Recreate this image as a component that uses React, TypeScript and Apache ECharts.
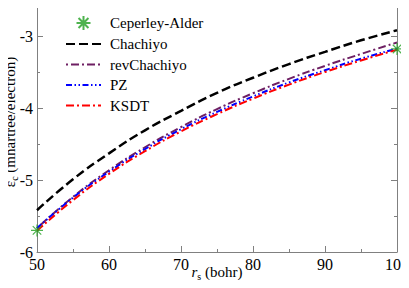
import React, { useEffect, useRef } from "react";
import * as echarts from "echarts";

const rs = [50, 55, 60, 65, 70, 75, 80, 85, 90, 95, 100];
const chachiyo = [-5.42, -4.99, -4.63, -4.31, -4.04, -3.79, -3.58, -3.39, -3.22, -3.06, -2.92];
const revChachiyo = [-5.67, -5.235, -4.865, -4.545, -4.265, -4.015, -3.795, -3.595, -3.415, -3.25, -3.09];
const pz = [-5.67, -5.245, -4.885, -4.57, -4.295, -4.055, -3.84, -3.645, -3.475, -3.315, -3.175];
const ksdt = [-5.705, -5.28, -4.915, -4.6, -4.325, -4.085, -3.87, -3.675, -3.5, -3.34, -3.19];
const caRs = [50, 100];
const caE = [-5.7, -3.18];
const xTicks = [50, 60, 70, 80, 90, 100];
const yTicks = [-6, -5, -4, -3];

const FONT = "Liberation Serif";
const STAR =
  "path://M0,-10L0,10M-10,0L10,0M-7.07,-7.07L7.07,7.07M-7.07,7.07L7.07,-7.07";
const CLEAR = "rgba(0,0,0,0)";

export default function App() {
  const ref = useRef<HTMLDivElement>(null);
  useEffect(() => {
    if (!ref.current) return;
    const chart = echarts.init(ref.current, null, { renderer: "svg" });
    const pair = (ys: number[]) => rs.map((x, i) => [x, ys[i]]);
    const axisCommon = {
      axisLine: { show: true, lineStyle: { color: "#808080", width: 1 } },
      axisTick: { show: true, inside: true, length: 6, lineStyle: { color: "#808080" } },
      minorTick: { show: true, splitNumber: 2, length: 3, lineStyle: { color: "#808080" } },
      splitLine: { show: false },
    };
    chart.setOption({
      animation: false,
      backgroundColor: "#ffffff",
      grid: { left: 37, right: 12, top: 0, bottom: 36, outerBoundsMode: "none" },
      legend: {
        orient: "vertical",
        left: 60,
        top: 10,
        itemWidth: 35,
        itemHeight: 14,
        itemGap: 5.5,
        textStyle: { fontFamily: FONT, fontSize: 15, color: "#000", padding: [0, 0, 0, 4], lineHeight: 15 },
        data: ["Ceperley-Alder", "Chachiyo", "revChachiyo", "PZ", "KSDT"],
      },
      xAxis: [
        {
          type: "value",
          min: 50,
          max: 100,
          interval: 10,
          ...axisCommon,
          axisLabel: {
            fontFamily: FONT,
            fontSize: 16,
            color: "#000",
            margin: 4,
            formatter: (v: number) => (xTicks.includes(v) ? String(v) : ""),
          },
        },
        {
          type: "value",
          position: "top",
          min: 50,
          max: 100,
          interval: 10,
          ...axisCommon,
          axisLabel: { show: false },
        },
      ],
      yAxis: [
        {
          type: "value",
          min: -6,
          max: -2.5,
          interval: 1,
          ...axisCommon,
          axisLabel: {
            fontFamily: FONT,
            fontSize: 16,
            color: "#000",
            margin: 4,
            formatter: (v: number) => (yTicks.includes(v) ? String(v) : ""),
          },
        },
        {
          type: "value",
          position: "right",
          min: -6,
          max: -2.5,
          interval: 1,
          ...axisCommon,
          axisLabel: { show: false },
        },
      ],
      graphic: [
        {
          type: "text",
          x: 217,
          y: 272,
          style: {
            text: "{i|r}{sub|s}{n| (bohr)}",
            align: "center",
            verticalAlign: "middle",
            rich: {
              i: { fontFamily: FONT, fontSize: 15, fontStyle: "italic", fill: "#000" },
              sub: { fontFamily: FONT, fontSize: 10, fill: "#000", padding: [8, 0, 0, 0] },
              n: { fontFamily: FONT, fontSize: 15, fill: "#000" },
            },
          },
        },
        {
          type: "text",
          x: 10,
          y: 122,
          rotation: Math.PI / 2,
          style: {
            text: "{e|ε}{sub|c}{e| (mhartree/electron)}",
            align: "center",
            verticalAlign: "middle",
            rich: {
              e: { fontFamily: FONT, fontSize: 15, fill: "#000" },
              sub: { fontFamily: FONT, fontSize: 10, fill: "#000", padding: [8, 0, 0, 0] },
            },
          },
        },
      ],
      series: [
        {
          name: "Chachiyo",
          type: "line",
          data: pair(chachiyo),
          smooth: true,
          symbol: "none",
          lineStyle: { color: "#000000", width: 2.5, type: [9, 4] },
          itemStyle: { color: CLEAR, borderWidth: 0 },
        },
        {
          name: "revChachiyo",
          type: "line",
          data: pair(revChachiyo),
          smooth: true,
          symbol: "none",
          lineStyle: { color: "#6e1f63", width: 2, type: [2, 3, 8, 3] },
          itemStyle: { color: CLEAR, borderWidth: 0 },
        },
        {
          name: "PZ",
          type: "line",
          data: pair(pz),
          smooth: true,
          symbol: "none",
          lineStyle: { color: "#0000ff", width: 2, type: [6, 2.5, 1.5, 2.5, 1.5, 2.5] },
          itemStyle: { color: CLEAR, borderWidth: 0 },
        },
        {
          name: "KSDT",
          type: "line",
          data: pair(ksdt),
          smooth: true,
          symbol: "none",
          lineStyle: { color: "#ff0000", width: 2, type: [8, 3, 2, 3] },
          itemStyle: { color: CLEAR, borderWidth: 0 },
        },
        {
          name: "Ceperley-Alder",
          type: "scatter",
          data: caRs.map((x, i) => [x, caE[i]]),
          symbol: STAR,
          symbolSize: 12,
          symbolKeepAspect: true,
          itemStyle: { color: CLEAR, borderColor: "#22a022", borderWidth: 1.2 },
          z: 5,
          clip: false,
        },
      ],
    });
    return () => chart.dispose();
  }, []);
  return <div ref={ref} style={{ width: 409, height: 288, margin: -8 }} />;
}
